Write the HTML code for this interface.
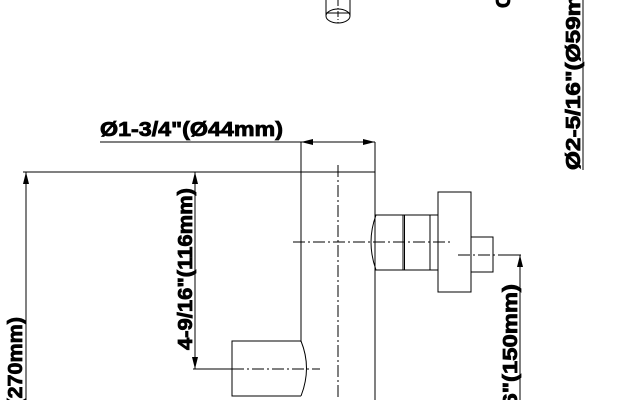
<!DOCTYPE html>
<html><head><meta charset="utf-8"><style>html,body{margin:0;padding:0;background:#fff;width:623px;height:400px;overflow:hidden}svg{display:block}</style></head>
<body>
<svg width="623" height="400" viewBox="0 0 623 400" xmlns="http://www.w3.org/2000/svg" font-family="Liberation Sans, sans-serif" font-weight="bold">
<g fill="none" stroke="#000" stroke-width="1">
<path d="M326 0 V16 M350 0 V16"/>
<ellipse cx="338" cy="16" rx="12" ry="7" fill="#fff"/>
<path d="M326 13 H350"/>
<path d="M338 0 V23" stroke-dasharray="6 2 1 2"/>
<path d="M100 142 H375"/>
<path d="M301 142 V342 M375 142 V400"/>
<path d="M23 172 H375"/>
<path d="M338 165 V400" stroke-dasharray="12 3 2 3"/>
<path d="M26 172 V400"/>
<path d="M195 172 V369"/>
<path d="M193 369 H232"/>
<path d="M232 369 H320" stroke-dasharray="12 3 2 3"/>
<path d="M301 341 H232 V396 H301"/>
<path d="M301 341 Q312 368 301 396"/>
<path d="M375 215 H438 M375 270 H438"/>
<path d="M376 215 Q366 242 376 270"/>
<path d="M403 215 V270 M404.5 215 V270 M430 215 V270"/>
<rect x="438" y="192" width="33" height="100"/>
<path d="M471 237 H493 V272 H471"/>
<path d="M293 242 H450" stroke-dasharray="12 3 2 3"/>
<path d="M458 255 H500" stroke-dasharray="12 3 2 3"/>
<path d="M500 255 H521"/>
<path d="M520 255 V400"/>
<path d="M583 0 V170"/>
</g>
<g fill="#000">
<path d="M301 142 L313 139 L313 145 Z"/>
<path d="M375 142 L363 139 L363 145 Z"/>
<path d="M26 172 L23 184 L29 184 Z"/>
<path d="M195 172 L192 184 L198 184 Z"/>
<path d="M195 369 L192 357 L198 357 Z"/>
<path d="M520 255 L517 267 L523 267 Z"/>
</g>
<g font-size="20" stroke="#000" stroke-width="0.8">
<text x="100" y="136" textLength="183" lengthAdjust="spacingAndGlyphs">Ø1-3/4"(Ø44mm)</text>
<text transform="translate(192,350) rotate(-90)" textLength="162" lengthAdjust="spacingAndGlyphs">4-9/16"(116mm)</text>
<text transform="translate(22,317) rotate(-90)" text-anchor="end" textLength="160" lengthAdjust="spacingAndGlyphs">10-5/8"(270mm)</text>
<text transform="translate(517,284) rotate(-90)" text-anchor="end" textLength="190" lengthAdjust="spacingAndGlyphs">5-15/16"(150mm)</text>
<text transform="translate(580,170) rotate(-90)" textLength="205" lengthAdjust="spacingAndGlyphs">Ø2-5/16"(Ø59mm)</text>
<text transform="translate(510,8) rotate(-90)">C</text>
</g>
</svg>
</body></html>
